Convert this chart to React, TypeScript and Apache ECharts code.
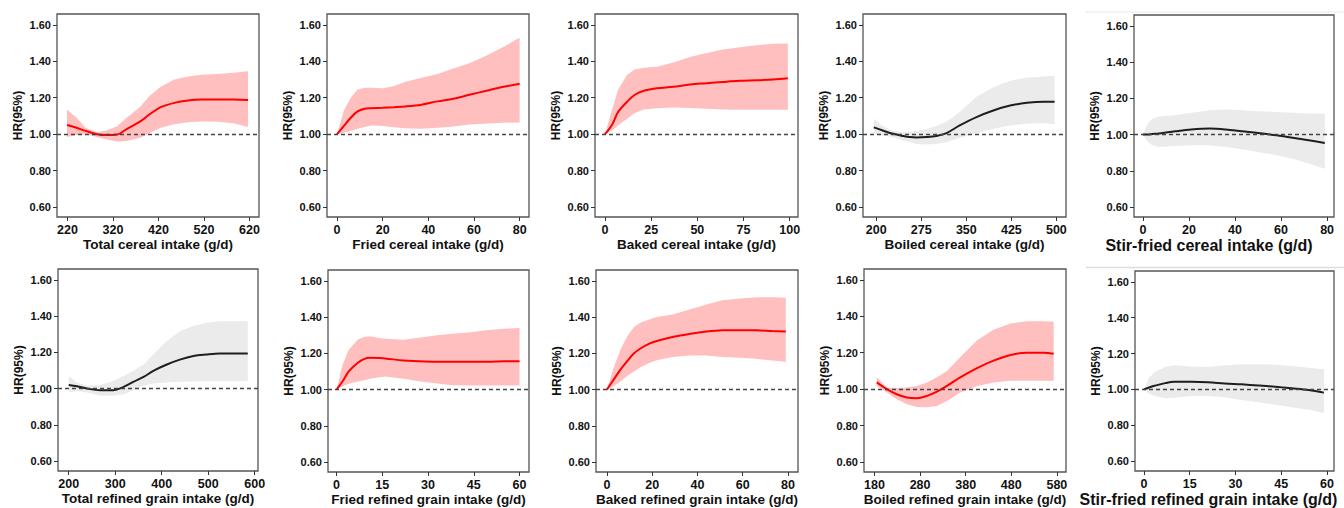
import React, { useEffect, useRef } from "react";
import * as echarts from "echarts";

// ---------- data ----------
const yTicks = [0.6, 0.8, 1.0, 1.2, 1.4, 1.6];

// Row 1
const totalCerealX = [219, 240, 260, 285, 305, 330, 350, 380, 400, 425, 455, 485, 515, 550, 585, 617];
const totalCerealHR = [1.05, 1.035, 1.018, 1.0, 0.995, 0.998, 1.028, 1.07, 1.108, 1.148, 1.172, 1.185, 1.19, 1.19, 1.19, 1.187];
const totalCerealLo = [0.985, 0.995, 1.0, 0.985, 0.97, 0.96, 0.962, 0.98, 1.005, 1.035, 1.055, 1.065, 1.07, 1.068, 1.06, 1.04];
const totalCerealHi = [1.135, 1.09, 1.035, 1.01, 1.02, 1.045, 1.09, 1.15, 1.21, 1.26, 1.3, 1.317, 1.326, 1.33, 1.337, 1.345];
const totalCerealTicks = [220, 320, 420, 520, 620];

const friedCerealX = [0, 3, 6, 9, 12, 15, 20, 25, 30, 37, 44, 51, 58, 66, 73, 80];
const friedCerealHR = [1.0, 1.045, 1.09, 1.125, 1.14, 1.143, 1.145, 1.148, 1.152, 1.162, 1.18, 1.195, 1.216, 1.24, 1.26, 1.277];
const friedCerealLo = [1.0, 1.008, 1.018, 1.03, 1.04, 1.048, 1.045, 1.038, 1.033, 1.03, 1.035, 1.042, 1.053, 1.058, 1.063, 1.064];
const friedCerealHi = [1.0, 1.13, 1.2, 1.245, 1.255, 1.255, 1.252, 1.265, 1.288, 1.31, 1.33, 1.36, 1.39, 1.435, 1.48, 1.53];
const friedCerealTicks = [0, 20, 40, 60, 80];

const bakedCerealX = [0, 4, 7, 12, 16, 21, 28, 37, 46, 55, 64, 73, 82, 91, 99];
const bakedCerealHR = [1.0, 1.055, 1.12, 1.178, 1.215, 1.238, 1.252, 1.26, 1.273, 1.28, 1.287, 1.293, 1.296, 1.3, 1.307];
const bakedCerealLo = [1.0, 1.022, 1.048, 1.085, 1.115, 1.135, 1.143, 1.146, 1.144, 1.14, 1.135, 1.134, 1.134, 1.134, 1.134];
const bakedCerealHi = [1.0, 1.14, 1.243, 1.326, 1.355, 1.365, 1.37, 1.394, 1.424, 1.446, 1.465, 1.478, 1.489, 1.496, 1.498];
const bakedCerealTicks = [0, 25, 50, 75, 100];

const boiledCerealX = [196, 211, 228, 245, 256, 267, 284, 300, 317, 339, 367, 395, 423, 451, 479, 497];
const boiledCerealHR = [1.037, 1.02, 1.002, 0.99, 0.984, 0.982, 0.984, 0.99, 1.006, 1.048, 1.094, 1.13, 1.157, 1.172, 1.178, 1.178];
const boiledCerealLo = [1.002, 0.993, 0.983, 0.965, 0.955, 0.946, 0.943, 0.946, 0.955, 0.98, 1.005, 1.03, 1.048, 1.057, 1.061, 1.054];
const boiledCerealHi = [1.085, 1.043, 1.017, 1.011, 1.012, 1.017, 1.028, 1.045, 1.068, 1.122, 1.205, 1.257, 1.294, 1.31, 1.317, 1.32];
const boiledCerealTicks = [200, 275, 350, 425, 500];

const stirCerealX = [0, 2, 4, 7, 14, 21, 29, 36, 43, 50, 58, 65, 72, 79];
const stirCerealHR = [1.0, 1.001, 1.003, 1.006, 1.018, 1.028, 1.033, 1.028, 1.018, 1.009, 0.996, 0.983, 0.969, 0.954];
const stirCerealLo = [1.0, 0.96, 0.941, 0.932, 0.937, 0.941, 0.941, 0.932, 0.919, 0.904, 0.886, 0.867, 0.84, 0.812];
const stirCerealHi = [1.0, 1.06, 1.088, 1.1, 1.107, 1.12, 1.134, 1.138, 1.134, 1.129, 1.125, 1.12, 1.116, 1.116];
const stirCerealTicks = [0, 20, 40, 60, 80];

// Row 2
const totalRefinedX = [200, 218, 239, 268, 296, 318, 339, 361, 382, 411, 439, 468, 496, 525, 554, 585];
const totalRefinedHR = [1.02, 1.013, 1.0, 0.991, 0.991, 1.009, 1.037, 1.064, 1.098, 1.133, 1.16, 1.18, 1.188, 1.193, 1.193, 1.193];
const totalRefinedLo = [0.978, 0.987, 0.978, 0.96, 0.96, 0.969, 0.991, 1.015, 1.028, 1.033, 1.037, 1.039, 1.042, 1.042, 1.042, 1.042];
const totalRefinedHi = [1.07, 1.033, 1.015, 1.02, 1.042, 1.07, 1.098, 1.133, 1.188, 1.262, 1.317, 1.345, 1.363, 1.372, 1.372, 1.372];
const totalRefinedTicks = [200, 300, 400, 500, 600];

const friedRefinedX = [0, 2, 4, 7, 9, 11, 14, 16, 22, 27, 33, 38, 44, 49, 55, 60];
const friedRefinedHR = [1.0, 1.046, 1.1, 1.148, 1.168, 1.175, 1.174, 1.172, 1.16, 1.157, 1.153, 1.153, 1.153, 1.153, 1.156, 1.157];
const friedRefinedLo = [1.0, 1.018, 1.032, 1.045, 1.052, 1.06, 1.068, 1.072, 1.06, 1.046, 1.033, 1.024, 1.022, 1.022, 1.022, 1.022];
const friedRefinedHi = [1.0, 1.138, 1.22, 1.277, 1.29, 1.295, 1.285, 1.28, 1.275, 1.286, 1.3, 1.308, 1.317, 1.327, 1.336, 1.34];
const friedRefinedTicks = [0, 15, 30, 45, 60];

const bakedRefinedX = [0, 3, 6, 9, 12, 15, 19, 22, 29, 37, 44, 51, 59, 66, 73, 79];
const bakedRefinedHR = [1.0, 1.055, 1.11, 1.157, 1.2, 1.228, 1.255, 1.268, 1.29, 1.308, 1.32, 1.327, 1.328, 1.327, 1.323, 1.32];
const bakedRefinedLo = [1.0, 1.018, 1.045, 1.075, 1.1, 1.125, 1.148, 1.162, 1.18, 1.188, 1.188, 1.18, 1.175, 1.17, 1.16, 1.153];
const bakedRefinedHi = [1.0, 1.12, 1.22, 1.295, 1.345, 1.37, 1.388, 1.4, 1.415, 1.443, 1.47, 1.493, 1.502, 1.51, 1.51, 1.507];
const bakedRefinedTicks = [0, 20, 40, 60, 80];

const boiledRefinedX = [185, 207, 229, 251, 273, 295, 317, 339, 368, 405, 441, 478, 514, 551, 573];
const boiledRefinedHR = [1.037, 1.0, 0.972, 0.954, 0.95, 0.963, 0.987, 1.018, 1.065, 1.116, 1.157, 1.188, 1.2, 1.2, 1.194];
const boiledRefinedLo = [1.018, 0.982, 0.945, 0.917, 0.902, 0.9, 0.908, 0.935, 0.982, 1.018, 1.037, 1.046, 1.046, 1.046, 1.046];
const boiledRefinedHi = [1.065, 1.009, 1.006, 1.009, 1.018, 1.037, 1.065, 1.1, 1.175, 1.268, 1.327, 1.36, 1.373, 1.373, 1.37];
const boiledRefinedTicks = [180, 280, 380, 480, 580];

const stirRefinedX = [0, 1.5, 3.5, 7, 10, 15.5, 21, 26.5, 32, 37.5, 43, 48.5, 54, 59];
const stirRefinedHR = [1.0, 1.009, 1.02, 1.035, 1.042, 1.042, 1.04, 1.033, 1.028, 1.022, 1.015, 1.006, 0.996, 0.982];
const stirRefinedLo = [1.0, 0.978, 0.963, 0.95, 0.954, 0.963, 0.963, 0.956, 0.941, 0.928, 0.914, 0.9, 0.886, 0.868];
const stirRefinedHi = [1.0, 1.06, 1.097, 1.125, 1.134, 1.128, 1.125, 1.134, 1.14, 1.14, 1.138, 1.13, 1.121, 1.112];
const stirRefinedTicks = [0, 15, 30, 45, 60];

const titles = [
  "Total cereal intake (g/d)",
  "Fried cereal intake (g/d)",
  "Baked cereal intake (g/d)",
  "Boiled cereal intake (g/d)",
  "Stir-fried cereal intake (g/d)",
  "Total refined grain intake (g/d)",
  "Fried refined grain intake (g/d)",
  "Baked refined grain intake (g/d)",
  "Boiled refined grain intake (g/d)",
  "Stir-fried refined grain intake (g/d)",
];

// ---------- layout / style ----------
const RED = { band: "#FFBFBF", line: "#FF0000" };
const GRAY = { band: "#EBEBEB", line: "#1E1E1E" };
const FONT = "'Liberation Sans', Arial, sans-serif";

const panels = [
  { x: totalCerealX, hr: totalCerealHR, lo: totalCerealLo, hi: totalCerealHi, ticks: totalCerealTicks, xmin: 197, xmax: 641, c: RED, box: [57, 14, 202, 203], tSize: 13.5, tShift: 0 },
  { x: friedCerealX, hr: friedCerealHR, lo: friedCerealLo, hi: friedCerealHi, ticks: friedCerealTicks, xmin: -4.4, xmax: 84.1, c: RED, box: [327, 14, 202, 203], tSize: 13.5, tShift: 0 },
  { x: bakedCerealX, hr: bakedCerealHR, lo: bakedCerealLo, hi: bakedCerealHi, ticks: bakedCerealTicks, xmin: -5.4, xmax: 104.5, c: RED, box: [595, 14, 203, 203], tSize: 13.5, tShift: 0 },
  { x: boiledCerealX, hr: boiledCerealHR, lo: boiledCerealLo, hi: boiledCerealHi, ticks: boiledCerealTicks, xmin: 178, xmax: 516, c: GRAY, box: [863, 14, 203, 203], tSize: 13.5, tShift: 0 },
  { x: stirCerealX, hr: stirCerealHR, lo: stirCerealLo, hi: stirCerealHi, ticks: stirCerealTicks, xmin: -3.9, xmax: 83, c: GRAY, box: [1134, 15, 200, 202], tSize: 16, tShift: 25 },
  { x: totalRefinedX, hr: totalRefinedHR, lo: totalRefinedLo, hi: totalRefinedHi, ticks: totalRefinedTicks, xmin: 177, xmax: 607, c: GRAY, box: [58, 269, 200, 202], tSize: 13.5, tShift: 0 },
  { x: friedRefinedX, hr: friedRefinedHR, lo: friedRefinedLo, hi: friedRefinedHi, ticks: friedRefinedTicks, xmin: -2.8, xmax: 63.1, c: RED, box: [328, 270, 201, 202], tSize: 13.5, tShift: 0 },
  { x: bakedRefinedX, hr: bakedRefinedHR, lo: bakedRefinedLo, hi: bakedRefinedHi, ticks: bakedRefinedTicks, xmin: -4.8, xmax: 84.4, c: RED, box: [596, 270, 202, 202], tSize: 13.5, tShift: 0 },
  { x: boiledRefinedX, hr: boiledRefinedHR, lo: boiledRefinedLo, hi: boiledRefinedHi, ticks: boiledRefinedTicks, xmin: 157, xmax: 600, c: RED, box: [864, 269, 202, 203], tSize: 13.5, tShift: 0 },
  { x: stirRefinedX, hr: stirRefinedHR, lo: stirRefinedLo, hi: stirRefinedHi, ticks: stirRefinedTicks, xmin: -2.9, xmax: 62.3, c: GRAY, box: [1135, 271, 199, 203], tSize: 16, tShift: 26 },
];

function buildOption() {
  const grid: any[] = [];
  const xAxis: any[] = [];
  const yAxis: any[] = [];
  const series: any[] = [];

  panels.forEach((p, i) => {
    const [l, t, w, h] = p.box;
    grid.push({ left: l, top: t, width: w, height: h, show: true, borderColor: "#555", borderWidth: 1.3, containLabel: false });
    xAxis.push({
      type: "value",
      gridIndex: i,
      min: p.xmin,
      max: p.xmax,
      name: titles[i],
      nameLocation: "middle",
      nameGap: 20,
      nameTextStyle: {
        fontFamily: FONT,
        fontSize: p.tSize,
        fontWeight: "bold",
        color: "#111",
        padding: [0, p.tShift * 2, 0, 0],
      },
      axisLine: { show: false, onZero: false },
      axisTick: { show: true, length: 4, customValues: p.ticks, lineStyle: { color: "#333", width: 1 } },
      axisLabel: { customValues: p.ticks, margin: 6, fontFamily: FONT, fontSize: 12.5, fontWeight: "bold", color: "#111" },
      splitLine: { show: false },
    });
    yAxis.push({
      type: "value",
      gridIndex: i,
      min: 0.545,
      max: 1.66,
      name: "HR(95%)",
      nameLocation: "middle",
      nameGap: 33,
      nameRotate: 90,
      nameTextStyle: { fontFamily: FONT, fontSize: 12, fontWeight: "bold", color: "#111" },
      axisLine: { show: false, onZero: false },
      axisTick: { show: true, length: 4, customValues: yTicks, lineStyle: { color: "#333", width: 1 } },
      axisLabel: {
        customValues: yTicks,
        margin: 6,
        formatter: (v: number) => v.toFixed(2),
        fontFamily: FONT,
        fontSize: 11,
        fontWeight: "bold",
        color: "#111",
      },
      splitLine: { show: false },
    });

    const bandData = p.x.map((xv, k) => [xv, p.lo[k], p.hi[k]]);
    series.push({
      type: "custom",
      xAxisIndex: i,
      yAxisIndex: i,
      z: 1,
      silent: true,
      data: bandData,
      encode: { x: 0, y: [1, 2] },
      renderItem: (params: any, api: any) => {
        if (params.dataIndex !== 0) return null;
        const pts: number[][] = [];
        for (let k = 0; k < p.x.length; k++) pts.push(api.coord([p.x[k], p.hi[k]]));
        for (let k = p.x.length - 1; k >= 0; k--) pts.push(api.coord([p.x[k], p.lo[k]]));
        return { type: "polygon", shape: { points: pts }, style: { fill: p.c.band } };
      },
    });
    series.push({
      type: "line",
      xAxisIndex: i,
      yAxisIndex: i,
      z: 3,
      data: p.x.map((xv, k) => [xv, p.hr[k]]),
      showSymbol: false,
      smooth: 0.35,
      lineStyle: { color: p.c.line, width: 2 },
      markLine: {
        silent: true,
        symbol: ["none", "none"],
        label: { show: false },
        lineStyle: { color: "#444", type: [4, 3], width: 1.3 },
        data: [{ yAxis: 1 }],
      },
    });
  });

  return {
    animation: false,
    backgroundColor: "#fff",
    grid,
    xAxis,
    yAxis,
    series,
    graphic: [
      { type: "line", shape: { x1: 1085, y1: 12, x2: 1344, y2: 12 }, style: { stroke: "#f0f0f0", lineWidth: 1.5 } },
      { type: "line", shape: { x1: 1086, y1: 267.5, x2: 1344, y2: 267.5 }, style: { stroke: "#dddddd", lineWidth: 1.5 } },
    ],
  };
}

export default function App() {
  const ref = useRef<HTMLDivElement>(null);
  useEffect(() => {
    if (!ref.current) return;
    const chart = echarts.init(ref.current, null, { renderer: "svg" });
    chart.setOption(buildOption() as any);
    return () => chart.dispose();
  }, []);
  return <div ref={ref} style={{ position: "absolute", left: 0, top: 0, width: 1344, height: 508 }} />;
}
